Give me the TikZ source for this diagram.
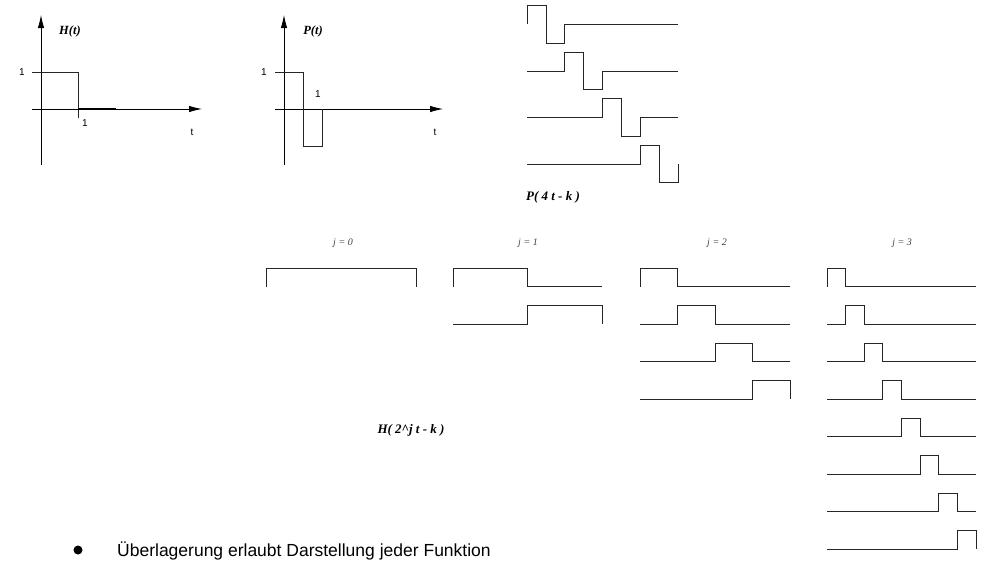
\documentclass[tikz,border=0pt]{standalone}
\usepackage{fontspec}
\setmainfont{Liberation Serif}
\setsansfont{Liberation Sans}
\usetikzlibrary{arrows.meta}
\begin{document}
\begin{tikzpicture}[x=1pt,y=-1pt,
  sig/.style={line width=0.8pt,black!85},
  axis/.style={line width=0.8pt,-{Latex[length=13pt,width=6.5pt]}},
  fnlbl/.style={font=\fontsize{12.5}{13}\selectfont\bfseries\itshape,inner sep=0pt},
  biglbl/.style={font=\fontsize{13}{14}\selectfont\bfseries\itshape,inner sep=0pt},
  numlbl/.style={font=\sffamily\fontsize{10}{11}\selectfont,inner sep=0pt},
  jlbl/.style={font=\fontsize{10}{11}\selectfont\itshape,text=black!75,inner sep=0pt}]
\useasboundingbox (0,0) rectangle (984,560);
% ---------- H(t)
\draw[axis] (41,165) -- (41,15);
\draw[axis] (32,109) -- (202,109);
\draw[sig] (32,72) -- (78,72) -- (78,118);
\draw[line width=1.3pt] (78,109) -- (116,109);
\node[fnlbl] (Ht) at (70,31) {H(t)};
\node[numlbl] (H1a) at (22,72) {1};
\node[numlbl] (H1b) at (85,123) {1};
\node[numlbl] (Htt) at (192,132) {t};
% ---------- P(t)
\draw[axis] (284,165) -- (284,15);
\draw[axis] (275,109) -- (443,109);
\draw[sig] (275,72) -- (303,72) -- (303,146) -- (322,146) -- (322,109);
\node[fnlbl] (Pt) at (313,31) {P(t)};
\node[numlbl] (P1a) at (264,72) {1};
\node[numlbl] (P1b) at (318,94) {1};
\node[numlbl] (Ptt) at (435,132) {t};
% ---------- P(4t-k)
\foreach \k in {0,...,3}{
  \pgfmathsetmacro\yb{24.3+46.6*\k}
  \pgfmathsetmacro\xs{527+37.75*\k}
  \draw[sig] (527,\yb) -- (\xs,\yb) -- (\xs,\yb-18.7) -- (\xs+18.9,\yb-18.7)
     -- (\xs+18.9,\yb+18.7) -- (\xs+37.75,\yb+18.7) -- (\xs+37.75,\yb) -- (678,\yb);
}
\node[biglbl] (P4) at (553,197) {P( 4 t - k )};
% ---------- Haar family
\foreach \xa/\xb/\n in {266/416/1, 453/602/2, 640/790/4, 827/976/8}{
  \pgfmathsetmacro\w{(\xb-\xa)/\n}
  \pgfmathtruncatemacro\nm{\n-1}
  \foreach \k in {0,...,\nm}{
    \pgfmathsetmacro\yb{286.5+37.5*\k}
    \draw[sig] (\xa,\yb) -- ({\xa+\k*\w},\yb) -- ({\xa+\k*\w},\yb-18.5)
      -- ({\xa+(\k+1)*\w},\yb-18.5) -- ({\xa+(\k+1)*\w},\yb) -- (\xb,\yb);
  }
}
\node[jlbl] (j0) at (343,243) {j = 0};
\node[jlbl] (j1) at (528,243) {j = 1};
\node[jlbl] (j2) at (717,243) {j = 2};
\node[jlbl] (j3) at (902,243) {j = 3};
\node[biglbl] (H2j) at (411,430) {H( 2\string^j t - k )};
% ---------- bullet text
\fill (78,550) circle (4.5);
\node[font=\sffamily\fontsize{17.5}{20}\selectfont,anchor=base west,inner sep=0pt] (txt) at (117,556)
  {Überlagerung erlaubt Darstellung jeder Funktion};
\end{tikzpicture}
\end{document}
